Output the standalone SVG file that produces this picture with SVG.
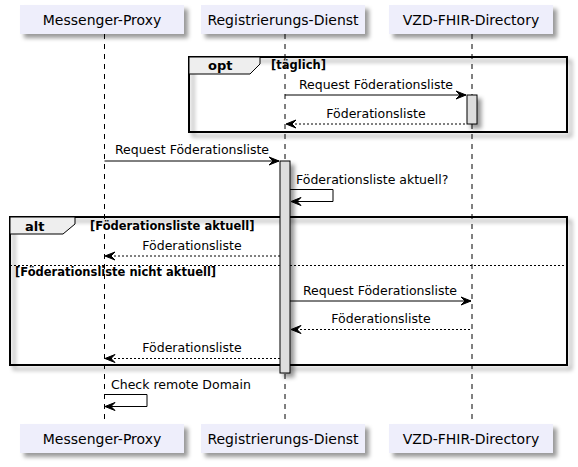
<svg xmlns="http://www.w3.org/2000/svg" width="578" height="467" viewBox="0 0 578 467">
<style>
text{font-family:"DejaVu Sans","Liberation Sans",sans-serif;fill:#000}
.p{font-size:14px;text-anchor:middle}
.m{font-size:12.5px}
.mc{font-size:12.5px;text-anchor:middle}
.fl{font-size:13px;font-weight:bold}
.fc{font-size:11.5px;font-weight:bold}
.box{fill:#EEEEFB;stroke:none}
.life{stroke:#000;stroke-width:1;stroke-dasharray:5,5;fill:none}
.act{fill:#DDDDDD;stroke:#000;stroke-width:1}
.frame{fill:none;stroke:#000;stroke-width:2}
.tab{fill:#EEEEEE;stroke:#000;stroke-width:1}
.sol{stroke:#000;stroke-width:1;fill:none}
.dash{stroke:#000;stroke-width:1;stroke-dasharray:2,2;fill:none}
.ah{fill:#000;stroke:#000;stroke-width:1}
</style>
<defs>
<filter id="sh" x="-1" y="-1" width="300%" height="300%">
<feGaussianBlur in="SourceAlpha" stdDeviation="2" result="b"/>
<feColorMatrix in="b" type="matrix" values="0 0 0 0 0 0 0 0 0 0 0 0 0 0 0 0 0 0 .4 0" result="b2"/>
<feOffset in="b2" dx="4" dy="4" result="b3"/>
<feBlend in="SourceGraphic" in2="b3" mode="normal"/>
</filter>
</defs>

<g id="lifelines">
<line class="life" x1="104.5" y1="34" x2="104.5" y2="424"/>
<line class="life" x1="285" y1="34" x2="285" y2="424"/>
<line class="life" x1="472" y1="34" x2="472" y2="424"/>
</g>

<g id="p-messenger">
<rect class="box" x="20" y="5" width="164" height="29" filter="url(#sh)"/>
<text class="p" x="102" y="25">Messenger-Proxy</text>
<rect class="box" x="20" y="424" width="164" height="29" filter="url(#sh)"/>
<text class="p" x="102" y="444">Messenger-Proxy</text>
</g>
<g id="p-registrierung">
<rect class="box" x="201" y="5" width="164" height="29" filter="url(#sh)"/>
<text class="p" x="283" y="25">Registrierungs-Dienst</text>
<rect class="box" x="201" y="424" width="164" height="29" filter="url(#sh)"/>
<text class="p" x="283" y="444">Registrierungs-Dienst</text>
</g>
<g id="p-vzd">
<rect class="box" x="389" y="5" width="164" height="29" filter="url(#sh)"/>
<text class="p" x="471" y="25">VZD-FHIR-Directory</text>
<rect class="box" x="389" y="424" width="164" height="29" filter="url(#sh)"/>
<text class="p" x="471" y="444">VZD-FHIR-Directory</text>
</g>

<g id="frame-opt">
<rect class="frame" x="189" y="57" width="378" height="75" filter="url(#sh)"/>
<path class="tab" d="M189,57 H260 V64 L250,74 H189 Z"/>
<text class="fl" x="208" y="70">opt</text>
<text class="fc" x="271" y="69">[täglich]</text>
</g>

<g id="frame-alt">
<rect class="frame" x="10" y="217" width="557" height="148" filter="url(#sh)"/>
<path class="tab" d="M10,217 H75 V224 L63,234 H10 Z"/>
<text class="fl" x="25" y="231">alt</text>
<text class="fc" x="90" y="230">[Föderationsliste aktuell]</text>
<line class="dash" x1="10" y1="265.5" x2="567" y2="265.5"/>
<text class="fc" x="15" y="276">[Föderationsliste nicht aktuell]</text>
</g>

<g id="activations">
<rect class="act" x="467" y="95" width="10" height="29" filter="url(#sh)"/>
<rect class="act" x="280" y="161" width="10" height="212" filter="url(#sh)"/>
</g>

<g id="connectors">
<line class="sol" x1="285" y1="95" x2="466" y2="95"/>
<polygon class="ah" points="456,91 466,95 456,99 460,95"/>
<text class="mc" x="376" y="89">Request Föderationsliste</text>

<line class="dash" x1="287" y1="124" x2="467" y2="124"/>
<polygon class="ah" points="296,120 286,124 296,128 292,124"/>
<text class="mc" x="376" y="118">Föderationsliste</text>

<line class="sol" x1="104.5" y1="161" x2="279" y2="161"/>
<polygon class="ah" points="269,157 279,161 269,165 273,161"/>
<text class="mc" x="192" y="154">Request Föderationsliste</text>

<polyline class="sol" points="290,189.5 333,189.5 333,201.5 292,201.5"/>
<polygon class="ah" points="301,197.5 291,201.5 301,205.5 297,201.5"/>
<text class="m" x="296" y="184">Föderationsliste aktuell?</text>

<line class="dash" x1="106" y1="256" x2="280" y2="256"/>
<polygon class="ah" points="115,252 105,256 115,260 111,256"/>
<text class="mc" x="192" y="250">Föderationsliste</text>

<line class="sol" x1="290" y1="301" x2="471" y2="301"/>
<polygon class="ah" points="461,297 471,301 461,305 465,301"/>
<text class="mc" x="380" y="295">Request Föderationsliste</text>

<line class="dash" x1="292" y1="329.5" x2="472" y2="329.5"/>
<polygon class="ah" points="301,325.5 291,329.5 301,333.5 297,329.5"/>
<text class="mc" x="381" y="323">Föderationsliste</text>

<line class="dash" x1="106" y1="358.5" x2="280" y2="358.5"/>
<polygon class="ah" points="115,354.5 105,358.5 115,362.5 111,358.5"/>
<text class="mc" x="192" y="352">Föderationsliste</text>

<polyline class="sol" points="104.5,394.5 147,394.5 147,406.5 106,406.5"/>
<polygon class="ah" points="115,402.5 105,406.5 115,410.5 111,406.5"/>
<text class="m" x="111" y="389">Check remote Domain</text>
</g>
</svg>
